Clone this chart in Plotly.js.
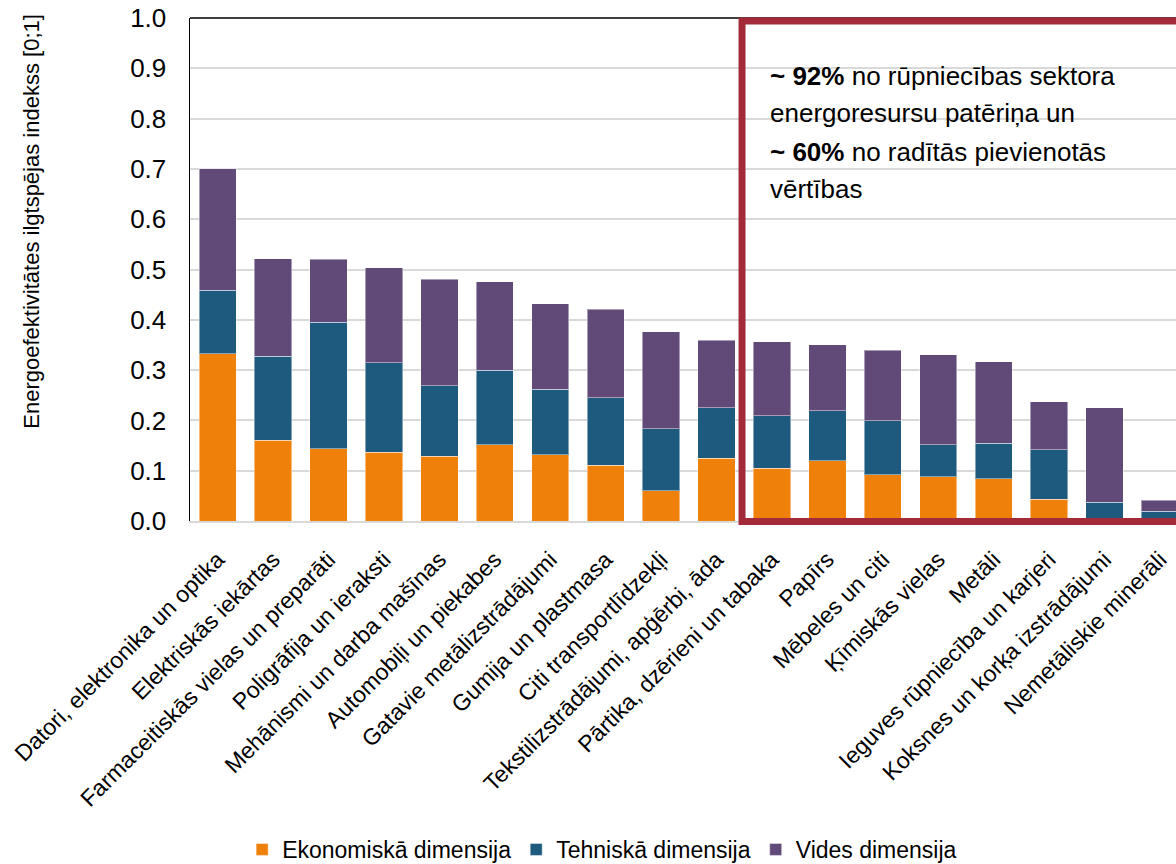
<!DOCTYPE html>
<html>
<head>
<meta charset="utf-8">
<script src="https://cdn.plot.ly/plotly-3.0.1.min.js"></script>
<style>
html,body{margin:0;padding:0;background:#fff;}
#chart{width:1176px;height:864px;}
</style>
</head>
<body>
<div id="chart"></div>
<script>
const categories = [
  "Datori, elektronika un optika",
  "Elektriskās iekārtas",
  "Farmaceitiskās vielas un preparāti",
  "Poligrāfija un ieraksti",
  "Mehānismi un darba mašīnas",
  "Automobiļi un piekabes",
  "Gatavie metālizstrādājumi",
  "Gumija un plastmasa",
  "Citi transportlīdzekļi",
  "Tekstilizstrādājumi, apģērbi, āda",
  "Pārtika, dzērieni un tabaka",
  "Papīrs",
  "Mēbeles un citi",
  "Ķīmiskās vielas",
  "Metāli",
  "Ieguves rūpniecība un karjeri",
  "Koksnes un korķa izstrādājumi",
  "Nemetāliskie minerāli"
];
const economic = [0.333, 0.161, 0.144, 0.137, 0.129, 0.152, 0.132, 0.111, 0.060, 0.125, 0.105, 0.120, 0.092, 0.088, 0.084, 0.043, 0.005, 0.005];
const technical = [0.126, 0.167, 0.251, 0.178, 0.140, 0.148, 0.130, 0.134, 0.123, 0.100, 0.104, 0.099, 0.107, 0.064, 0.071, 0.099, 0.032, 0.014];
const environmental = [0.241, 0.193, 0.125, 0.188, 0.212, 0.176, 0.170, 0.176, 0.193, 0.134, 0.147, 0.131, 0.140, 0.179, 0.162, 0.095, 0.188, 0.022];
const seriesNames = ["Ekonomiskā dimensija", "Tehniskā dimensija", "Vides dimensija"];
const seriesColors = ["#EF800A", "#1E5A7E", "#614A78"];
const yTicks = [0, 0.1, 0.2, 0.3, 0.4, 0.5, 0.6, 0.7, 0.8, 0.9, 1.0];
const yTickText = ["0.0","0.1","0.2","0.3","0.4","0.5","0.6","0.7","0.8","0.9","1.0"];
const yTitle = "Energoefektivitātes ilgtspējas indekss [0;1]";
const noteLines = [
  "<b>~ 92%</b> no rūpniecības sektora",
  "energoresursu patēriņa un",
  "<b>~ 60%</b> no radītās pievienotās",
  "vērtības"
];

const FONT = "Liberation Sans, Arial, sans-serif";
const seriesValues = [economic, technical, environmental];
const traces = seriesValues.map((vals, i) => ({
  type: "bar",
  x: categories,
  y: vals,
  name: seriesNames[i],
  marker: {color: seriesColors[i], line: {color: "rgba(255,255,255,0.45)", width: 1}},
  hoverinfo: "x+y+name"
}));

const xRange = [-0.5, 17.29];
const boxX0 = (9.46 - xRange[0]) / (xRange[1] - xRange[0]);
const noteY = [0.885, 0.812, 0.734, 0.661];

const annotations = noteLines.map((t, i) => ({
  xref: "paper", yref: "paper", x: 0.586, y: noteY[i],
  xanchor: "left", yanchor: "middle", showarrow: false,
  text: t, font: {family: FONT, size: 26, color: "#000"}
}));
annotations.push({
  xref: "paper", yref: "paper", x: 0, y: 0.595, xshift: -158,
  xanchor: "center", yanchor: "middle", showarrow: false, textangle: -90,
  text: yTitle, font: {family: FONT, size: 22, color: "#000"}
});

const layout = {
  width: 1176, height: 864,
  margin: {l: 190, r: 0, t: 18, b: 343, autoexpand: false},
  paper_bgcolor: "#fff", plot_bgcolor: "#fff",
  barmode: "stack",
  bargap: 0.327,
  font: {family: FONT, color: "#000"},
  showlegend: true,
  legend: {
    orientation: "h", x: 0.418, xanchor: "center", y: -0.653, yanchor: "middle",
    font: {family: FONT, size: 23, color: "#000"}, traceorder: "normal"
  },
  xaxis: {
    type: "category", range: xRange, tickangle: -45,
    tickfont: {family: FONT, size: 23, color: "#000"},
    showline: true, linecolor: "#d9d9d9", linewidth: 2,
    showgrid: false, ticks: "", zeroline: false, fixedrange: true,
    ticklabelstandoff: 14, automargin: false
  },
  yaxis: {
    range: [0, 1], tickvals: yTicks, ticktext: yTickText,
    tickfont: {family: FONT, size: 26, color: "#000"},
    showgrid: true, gridcolor: "#d9d9d9", gridwidth: 2,
    showline: true, linecolor: "#000", linewidth: 1.5,
    zeroline: false, ticks: "", ticklabelstandoff: 17, fixedrange: true,
    automargin: false
  },
  shapes: [
    {type: "line", xref: "paper", yref: "paper", x0: 0, x1: 1, y0: 1, y1: 1,
     line: {color: "#000", width: 1.5}},
    {type: "rect", xref: "paper", yref: "paper", x0: boxX0, x1: 1.03, y0: -0.001, y1: 0.994,
     line: {color: "#A32A38", width: 7}, fillcolor: "rgba(0,0,0,0)", layer: "above"}
  ],
  annotations: annotations
};

Plotly.newPlot("chart", traces, layout, {displayModeBar: false, staticPlot: true});
</script>
</body>
</html>
